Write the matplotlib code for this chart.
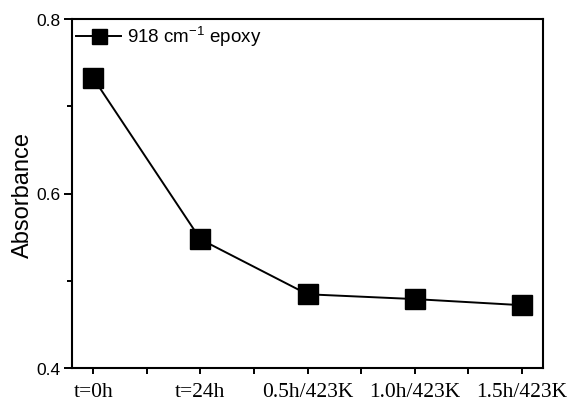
import matplotlib
matplotlib.use("Agg")
import matplotlib.pyplot as plt
from matplotlib.ticker import MultipleLocator

categories = ["t=0h", "t=24h", "0.5h/423K", "1.0h/423K", "1.5h/423K"]
absorbance = [0.732, 0.5475, 0.4845, 0.479, 0.472]

W, H = 572, 402
L, R, T, B = 72, 543, 20, 369
fig = plt.figure(figsize=(W/100, H/100), dpi=100)
ax = fig.add_axes([L/W, 1-B/H, (R-L)/W, (B-T)/H])
x = list(range(len(categories)))
ax.plot(x, absorbance, color="black", lw=1.4, marker="s", ms=15,
        markerfacecolor="black", markeredgecolor="black",
        label="918 cm$^{\\mathregular{-1}}$ epoxy")
ax.set_xlim(-0.2, 4.2)
ax.set_ylim(0.4, 0.8)
ax.set_xticks(x)
ax.set_xticklabels(categories, family="Liberation Serif", fontsize=15.5)
ax.xaxis.set_minor_locator(MultipleLocator(0.5))
ax.set_yticks([0.4, 0.6, 0.8])
ax.set_yticklabels(["0.4", "0.6", "0.8"], family="Liberation Sans", fontsize=12.5)
ax.yaxis.set_minor_locator(MultipleLocator(0.1))
ax.tick_params(which="both", direction="out", width=1.4, top=False, right=False)
ax.tick_params(axis="y", which="major", length=6, pad=2)
ax.tick_params(axis="y", which="minor", length=3.6)
ax.tick_params(axis="x", which="both", length=4, pad=6)
for s in ax.spines.values():
    s.set_linewidth(1.5)
ax.set_ylabel("Absorbance", family="Liberation Sans", fontsize=17, labelpad=2)
leg = ax.legend(loc="center left", bbox_to_anchor=((76-L)/(R-L), 1-(37-T)/(B-T)),
                frameon=False, prop={"family": "Liberation Sans", "size": 13.5},
                handlelength=2.4, borderaxespad=0, handletextpad=0.3, borderpad=0,
                markerscale=0.72)
fig.savefig("out.png", dpi=100)
